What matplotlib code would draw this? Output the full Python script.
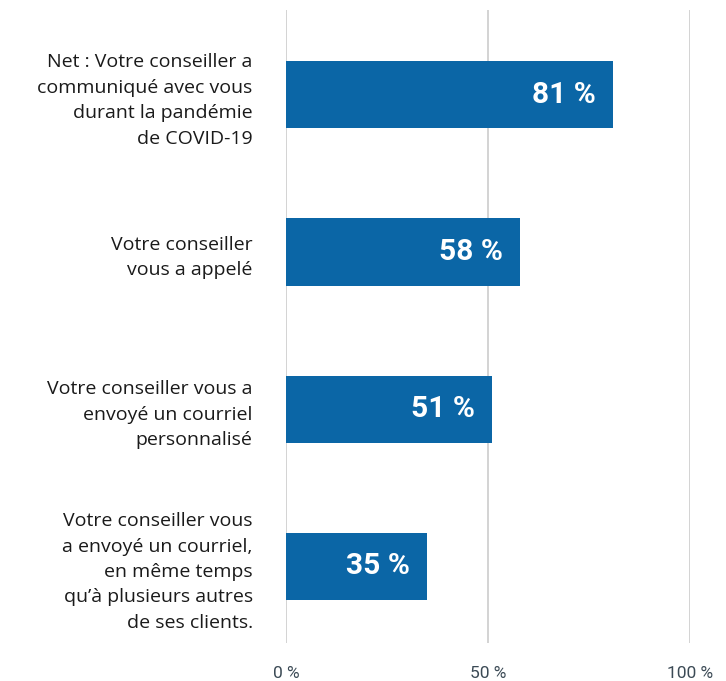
import matplotlib
matplotlib.use('Agg')
import matplotlib.pyplot as plt

# DATA
categories = [
    "Net : Votre conseiller a\ncommuniqué avec vous\ndurant la pandémie\nde COVID-19",
    "Votre conseiller\nvous a appelé",
    "Votre conseiller vous a\nenvoyé un courriel\npersonnalisé",
    "Votre conseiller vous\na envoyé un courriel,\nen même temps\nqu’à plusieurs autres\nde ses clients.",
]
values = [81, 58, 51, 35]
xticks = [0, 50, 100]
xtick_labels = ["0 %", "50 %", "100 %"]

bar_color = "#0B66A6"

fig = plt.figure(figsize=(7.26, 6.81), dpi=100)
ax = fig.add_axes([0.394, 0.056, 0.556, 0.929])

ypos = list(range(len(values)))
ax.barh(ypos, values, height=0.427, color=bar_color, zorder=2)

for y, v in zip(ypos, values):
    ax.text(v - 4.3, y, f"{v} %", ha="right", va="center", color="white",
            fontsize=21.5, fontweight="bold", family="Roboto", zorder=3)

ax.set_xlim(0, 100)
ax.set_ylim(len(values) - 1 + 0.487, -0.538)

ax.set_xticks(xticks)
ax.set_xticklabels(xtick_labels, family="Roboto", fontsize=12.5, color="#3b4a55")
ax.tick_params(axis="x", length=0, pad=17)
ax.grid(axis="x", color="#cccccc", linewidth=1.2, zorder=1)

ax.set_yticks(ypos)
ax.set_yticklabels(categories, family="Open Sans", fontsize=14, color="#1a1a1a",
                   linespacing=1.53, ha="right")
ax.tick_params(axis="y", length=0, pad=24)

for s in ax.spines.values():
    s.set_visible(False)

fig.savefig("out.png", dpi=100)
